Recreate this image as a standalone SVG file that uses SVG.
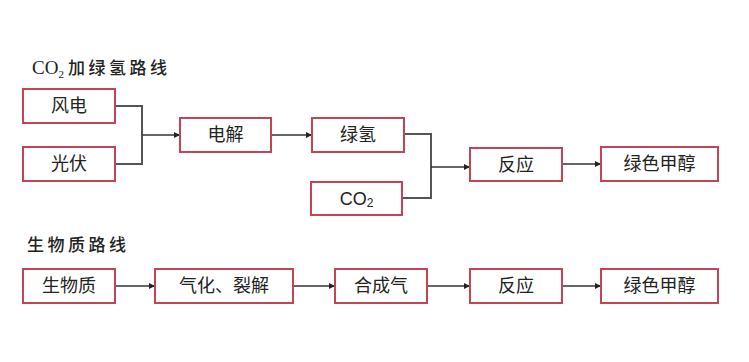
<svg xmlns="http://www.w3.org/2000/svg" width="749" height="362" viewBox="0 0 749 362">
<defs>
<style>
.box{fill:#fff;stroke:#c24455;stroke-width:2}
.lbl{font-family:"Liberation Sans","Noto Sans CJK SC",sans-serif;font-size:18px;fill:#222;text-anchor:middle;dominant-baseline:central}
.ttl{font-family:"Liberation Serif","Noto Sans CJK SC",serif;font-size:17px;fill:#222}
.cj{letter-spacing:3.5px;font-weight:500}
.br{fill:none;stroke:#555;stroke-width:2}
.ar{fill:none;stroke:#333;stroke-width:1.5;marker-end:url(#ah)}
</style>
<marker id="ah" viewBox="0 0 10 10" refX="10" refY="5" markerWidth="6" markerHeight="6" markerUnits="userSpaceOnUse" orient="auto"><path d="M0,0L10,5L0,10z" fill="#222"/></marker>
</defs>
<rect width="749" height="362" fill="#fff"/>
<text class="ttl" x="32" y="74"><tspan font-size="19">CO</tspan><tspan font-size="11" dy="4">2</tspan><tspan class="cj" x="68" dy="-4">加绿氢路线</tspan></text>
<text class="ttl cj" x="27" y="251">生物质路线</text>
<g id="connectors">
<path class="br" d="M115,106H142V164H115"/>
<path class="ar" d="M142,135H180"/>
<path class="ar" d="M271,135H312"/>
<path class="br" d="M404,134H431V198H402"/>
<path class="ar" d="M431,167H470"/>
<path class="ar" d="M562,164H601"/>
<path class="ar" d="M115,286H155"/>
<path class="ar" d="M293,286H335"/>
<path class="ar" d="M427,286H470"/>
<path class="ar" d="M562,286H601"/>
</g>
<g id="n-wind"><rect class="box" x="23" y="89" width="92" height="34"/><text class="lbl" x="69" y="106">风电</text></g>
<g id="n-pv"><rect class="box" x="23" y="147" width="92" height="34"/><text class="lbl" x="69" y="164">光伏</text></g>
<g id="n-elec"><rect class="box" x="180" y="118" width="91" height="34"/><text class="lbl" x="225.5" y="135">电解</text></g>
<g id="n-h2"><rect class="box" x="312" y="118" width="92" height="34"/><text class="lbl" x="358" y="135">绿氢</text></g>
<g id="n-co2"><rect class="box" x="311" y="182" width="91" height="33"/><text class="lbl" x="356.5" y="198.5">CO<tspan font-size="12" dy="4">2</tspan></text></g>
<g id="n-react1"><rect class="box" x="470" y="148" width="92" height="33"/><text class="lbl" x="516" y="164.5">反应</text></g>
<g id="n-meoh1"><rect class="box" x="601" y="147" width="117" height="34"/><text class="lbl" x="659.5" y="164">绿色甲醇</text></g>
<g id="n-bio"><rect class="box" x="23" y="269" width="92" height="34"/><text class="lbl" x="69" y="286">生物质</text></g>
<g id="n-gas"><rect class="box" x="155" y="269" width="138" height="34"/><text class="lbl" x="224" y="286">气化、裂解</text></g>
<g id="n-syn"><rect class="box" x="335" y="269" width="92" height="34"/><text class="lbl" x="381" y="286">合成气</text></g>
<g id="n-react2"><rect class="box" x="470" y="269" width="92" height="34"/><text class="lbl" x="516" y="286">反应</text></g>
<g id="n-meoh2"><rect class="box" x="601" y="269" width="117" height="34"/><text class="lbl" x="659.5" y="286">绿色甲醇</text></g>
</svg>
